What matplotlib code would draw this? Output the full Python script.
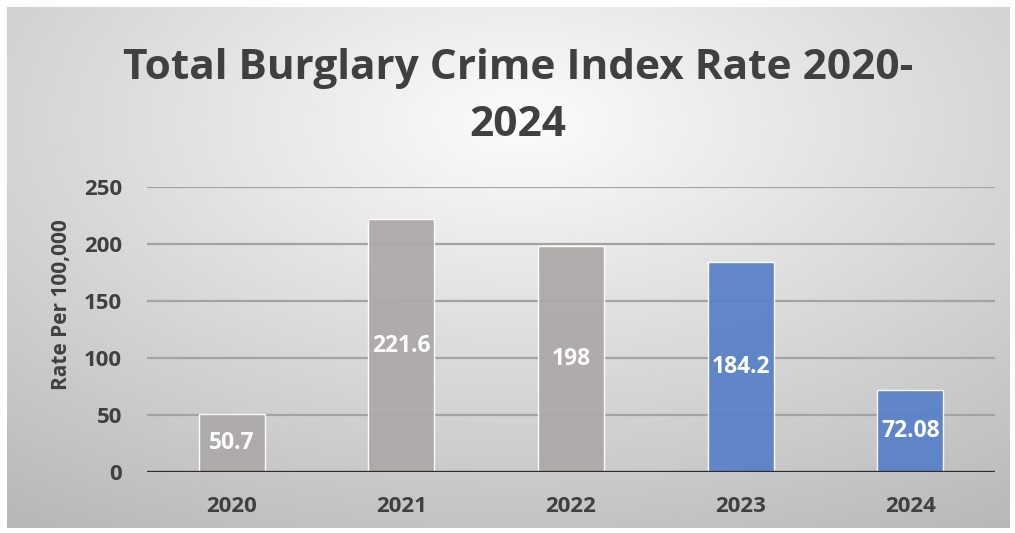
import numpy as np
import matplotlib
matplotlib.use("Agg")
import matplotlib.pyplot as plt
from matplotlib import font_manager

years = ["2020", "2021", "2022", "2023", "2024"]
rates = [50.7, 221.6, 198, 184.2, 72.08]
labels = ["50.7", "221.6", "198", "184.2", "72.08"]
bar_colors = ["#ADA9A8", "#ADA9A8", "#ADA9A8", "#5A82C9", "#5A82C9"]
yticks = [0, 50, 100, 150, 200, 250]
title = "Total Burglary Crime Index Rate 2020-\n2024"
ylabel = "Rate Per 100,000"

names = {f.name for f in font_manager.fontManager.ttflist}
FAM = [n for n in ["Liberation Sans Narrow", "Open Sans", "DejaVu Sans"] if n in names]

W, H = 1015, 533
fig = plt.figure(figsize=(W / 100, H / 100), dpi=100)
fig.patch.set_facecolor("white")

# gradient background
bg = fig.add_axes([7 / W, 5 / H, (1010 - 7) / W, (528 - 7) / H], zorder=-5)
gx, gy = np.meshgrid(np.linspace(0, 1003, 400), np.linspace(0, 521, 220))
cx, cy = 515, 115
d = np.sqrt(((gx - cx) / 1003) ** 2 + ((gy - cy) / 560) ** 2)
v = np.clip(252 - 78 * d, 180, 252) / 255.0
img = np.dstack([v, v, v])
bg.imshow(img, extent=[0, 1, 0, 1], origin="upper", aspect="auto", interpolation="bilinear")
bg.set_axis_off()

ax = fig.add_axes([147 / W, 1 - 472 / H, (995 - 147) / W, (472 - 187) / H])
ax.set_facecolor("none")
x = np.arange(len(years))
ax.set_xlim(-0.5, len(years) - 0.5)
ax.set_ylim(0, 250)

for yv in yticks[1:]:
    ax.axhline(yv, color="#A3A3A3", lw=1.6, zorder=1)

bars = ax.bar(x, rates, width=0.39, color=bar_colors, edgecolor=(1, 1, 1, 0.35),
              linewidth=1.0, zorder=2, alpha=0.95)
ax.axhline(0, color="#2E2E2E", lw=2.4, zorder=3, xmin=0, xmax=1)

for xi, r, lab in zip(x, rates, labels):
    ax.text(xi, r / 2, lab, ha="center", va="center", color="white",
            fontsize=16.5, fontweight="bold", family=FAM, zorder=4)

for s in ax.spines.values():
    s.set_visible(False)
ax.set_yticks(yticks)
ax.set_yticklabels([str(t) for t in yticks], family=FAM, fontsize=16,
                   fontweight="bold", color="#404040")
ax.set_xticks(x)
ax.set_xticklabels(years, family=FAM, fontsize=16, fontweight="bold", color="#404040")
ax.tick_params(axis="both", length=0)
ax.tick_params(axis="y", pad=18)
ax.tick_params(axis="x", pad=17)

fig.text(62 / W, 1 - 305 / H, ylabel, rotation=90, ha="center", va="center",
         family=FAM, fontsize=15, fontweight="bold", color="#404040")

fig.text(518 / W, 1 - 97 / H, title, ha="center", va="center", family=FAM,
         fontsize=30.5, fontweight="bold", color="#404040", linespacing=1.53)

fig.savefig("out.png", dpi=100)
